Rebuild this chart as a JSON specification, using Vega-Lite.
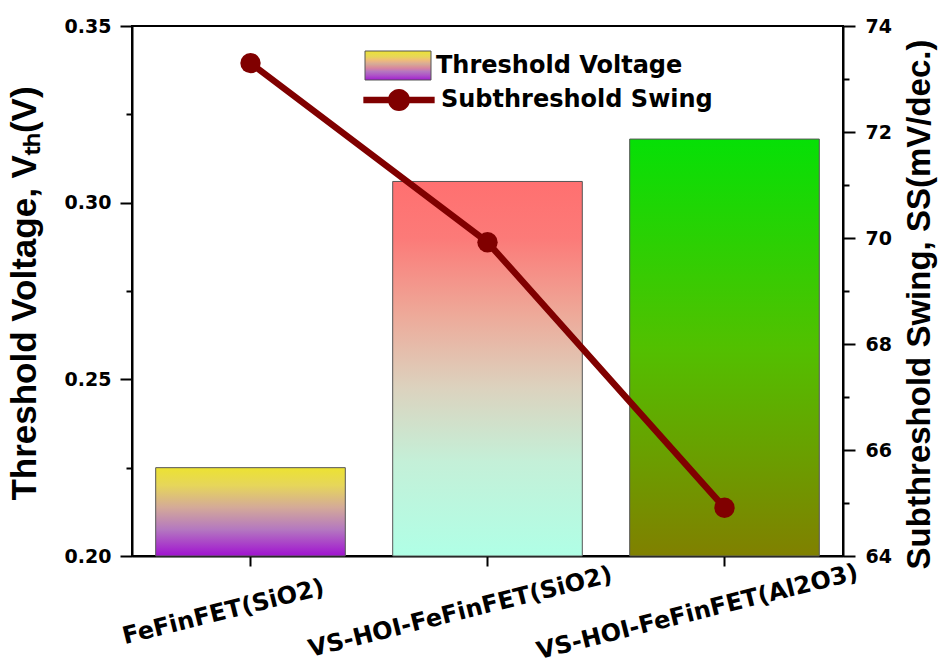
{
  "$schema": "https://vega.github.io/schema/vega-lite/v6.json",
  "width": 711,
  "height": 530,
  "autosize": "none",
  "padding": {"left": 132, "top": 26, "right": 101, "bottom": 110},
  "background": "white",
  "config": {
    "view": {"stroke": "black", "strokeWidth": 2},
    "axis": {
      "domainColor": "black", "domainWidth": 2, "tickColor": "black", "tickWidth": 2,
      "labelColor": "black", "titleColor": "black", "grid": false,
      "labelFont": "DejaVu Sans", "labelFontWeight": "bold", "labelFontSize": 19,
      "titleFont": "Liberation Sans", "titleFontWeight": "bold", "titleFontSize": 33
    },
    "legend": {
      "labelFont": "DejaVu Sans", "labelFontWeight": "bold", "labelFontSize": 24,
      "labelColor": "black", "labelLimit": 0
    }
  },
  "data": {
    "values": [
      {"device": "FeFinFET(SiO2)", "vth": 0.225, "ss": 73.3},
      {"device": "VS-HOI-FeFinFET(SiO2)", "vth": 0.306, "ss": 69.92},
      {"device": "VS-HOI-FeFinFET(Al2O3)", "vth": 0.318, "ss": 64.91}
    ]
  },
  "encoding": {
    "x": {
      "field": "device", "type": "nominal", "sort": null,
      "scale": {"domain": ["FeFinFET(SiO2)", "VS-HOI-FeFinFET(SiO2)", "VS-HOI-FeFinFET(Al2O3)"], "paddingInner": 0.2, "paddingOuter": 0.1},
      "axis": {
        "title": null, "labelAngle": -14, "labelAlign": "center", "labelBaseline": "middle",
        "labelPadding": 46, "labelOffset": -27, "tickSize": 10, "labelFontSize": 24,
        "labelOverlap": false, "labelBound": false, "labelFlush": false, "labelLimit": 0
      }
    }
  },
  "layer": [
    {
      "layer": [
        {
          "transform": [{"filter": "datum.device === 'FeFinFET(SiO2)'"}],
          "mark": {"type": "bar", "stroke": "#555555", "strokeWidth": 1,
            "fill": {"gradient": "linear", "x1": 0, "y1": 0, "x2": 0, "y2": 1, "stops": [
              {"offset": 0, "color": "#ece232"}, {"offset": 0.2, "color": "#e6d65a"}, {"offset": 0.45, "color": "#d4aa98"},
              {"offset": 0.7, "color": "#b478c0"}, {"offset": 1, "color": "#a012d0"}]}},
          "encoding": {
            "y": {
              "field": "vth", "type": "quantitative",
              "scale": {"domain": [0.2, 0.35], "nice": false, "zero": false},
              "axis": {
                "title": "Threshold Voltage, Vₜₕ(V)", "titleFontSize": 35, "titleY": 267,
                "values": [0.2, 0.225, 0.25, 0.275, 0.3, 0.325, 0.35],
                "labelExpr": "abs(datum.value*20-round(datum.value*20))<0.001 ? format(datum.value,'.2f') : ''",
                "tickSize": {"condition": {"test": "abs(datum.value*20-round(datum.value*20))<0.001", "value": 12}, "value": 6},
                "labelPadding": 9, "titlePadding": 22, "labelFlush": false, "labelOverlap": false
              }
            },
            "y2": {"datum": 0.2}
          }
        },
        {
          "transform": [{"filter": "datum.device === 'VS-HOI-FeFinFET(SiO2)'"}],
          "mark": {"type": "bar", "stroke": "#555555", "strokeWidth": 1,
            "fill": {"gradient": "linear", "x1": 0, "y1": 0, "x2": 0, "y2": 1, "stops": [
              {"offset": 0, "color": "#ff7070"}, {"offset": 0.15, "color": "#fc7a78"}, {"offset": 0.35, "color": "#eea898"},
              {"offset": 0.55, "color": "#dcd2be"}, {"offset": 0.75, "color": "#c4f0d8"}, {"offset": 1, "color": "#b0ffe6"}]}},
          "encoding": {
            "y": {"field": "vth", "type": "quantitative"},
            "y2": {"datum": 0.2}
          }
        },
        {
          "transform": [{"filter": "datum.device === 'VS-HOI-FeFinFET(Al2O3)'"}],
          "mark": {"type": "bar", "stroke": "#555555", "strokeWidth": 1,
            "fill": {"gradient": "linear", "x1": 0, "y1": 0, "x2": 0, "y2": 1, "stops": [
              {"offset": 0, "color": "#06e006"}, {"offset": 0.5, "color": "#52c000"}, {"offset": 1, "color": "#808000"}]}},
          "encoding": {
            "y": {"field": "vth", "type": "quantitative"},
            "y2": {"datum": 0.2}
          }
        },
        {
          "mark": {"type": "point", "filled": true, "size": 0, "opacity": 1},
          "encoding": {
            "y": {"field": "vth", "type": "quantitative"},
            "fill": {
              "datum": 0.5, "type": "quantitative",
              "scale": {"domain": [0, 0.3, 0.55, 0.8, 1], "range": ["#a012d0", "#b478c0", "#d4aa98", "#e6d65a", "#ece232"]},
              "legend": {
                "orient": "none", "legendX": 233, "legendY": 25, "padding": 0,
                "direction": "vertical", "gradientLength": 29, "gradientThickness": 66,
                "gradientStrokeColor": "#555555", "gradientStrokeWidth": 1,
                "values": [0.5], "labelExpr": "'Threshold Voltage'", "labelOffset": 5,
                "labelBaseline": "middle", "labelAlign": "left",
                "title": null
              }
            }
          }
        }
      ]
    },
    {
      "layer": [
        {
          "mark": {"type": "line", "color": "#800000", "strokeWidth": 6.5},
          "encoding": {
            "y": {
              "field": "ss", "type": "quantitative",
              "scale": {"domain": [64, 74], "nice": false, "zero": false},
              "axis": {
                "orient": "right",
                "title": "Subthreshold Swing, SS(mV/dec.)",
                "values": [64, 65, 66, 67, 68, 69, 70, 71, 72, 73, 74],
                "labelExpr": "datum.value % 2 == 0 ? format(datum.value,'d') : ''",
                "tickSize": {"condition": {"test": "datum.value % 2 == 0", "value": 12}, "value": 6},
                "labelPadding": 10, "titleAngle": 270, "titleBaseline": "top", "titlePadding": 12,
                "titleY": 278, "labelFlush": false, "labelOverlap": false
              }
            },
            "order": {"value": null}
          }
        },
        {
          "mark": {"type": "point", "filled": true, "size": 415, "color": "#800000", "opacity": 1},
          "encoding": {
            "y": {"field": "ss", "type": "quantitative"}
          }
        },
        {
          "mark": {"type": "point", "filled": true, "size": 5084, "color": "#800000", "opacity": 0},
          "encoding": {
            "y": {"field": "ss", "type": "quantitative"},
            "shape": {
              "datum": "Subthreshold Swing", "type": "nominal",
              "scale": {"range": ["M-1,-0.093H1V0.093H-1Z M0.31,0A0.31,0.31 0 1,1 -0.31,0A0.31,0.31 0 1,1 0.31,0Z"]},
              "legend": {
                "orient": "none", "legendX": 231, "legendY": 38, "title": null, "padding": 0,
                "symbolSize": 5084, "symbolOpacity": 1, "symbolFillColor": "#800000",
                "symbolStrokeWidth": 0, "labelOffset": 6
              }
            }
          }
        }
      ]
    }
  ],
  "resolve": {"scale": {"y": "independent"}, "axis": {"y": "independent"}}
}
